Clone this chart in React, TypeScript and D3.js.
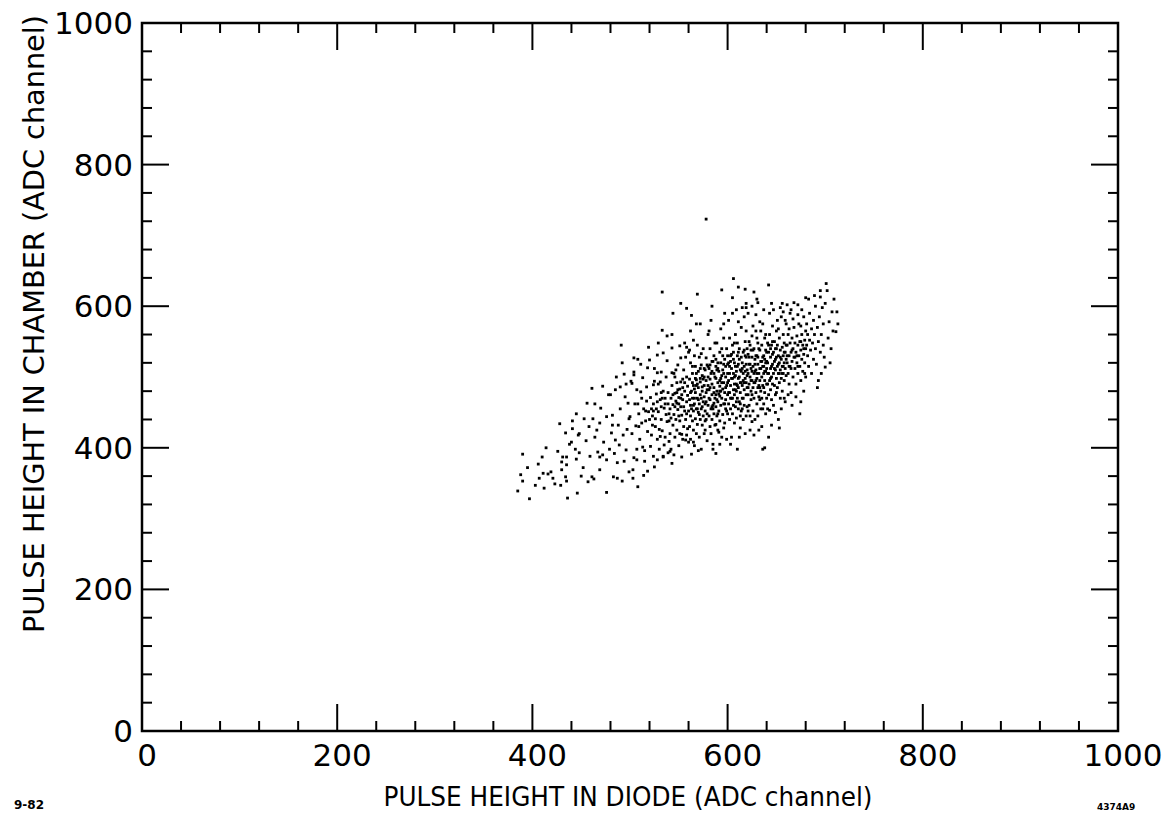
import React from "react";
import * as d3 from "d3";

// Event samples: [diode ADC channel, chamber ADC channel]
const eventsBelow500: [number, number][] = [
  [385,339],[388,362],[390,353],[390,391],[395,372],[397,328],
  [403,347],[406,377],[407,357],[410,387],[411,364],[414,400],[416,363],[419,366],[412,343],
  [421,357],[423,349],[428,434],[429,347],[430,369],[430,380],[431,387],[434,421],[434,359],[435,353],[435,376],[435,387],[436,329],[426,395],[438,405],
  [440,408],[441,427],[441,438],[444,398],[445,448],[445,384],[446,336],[447,418],[448,393],[448,420],[452,372],[455,410],[457,352],[458,430],[453,441],[459,388],[456,463],[450,360],
  [461,484],[472,487],[464,462],[470,456],[469,435],[476,444],[464,415],[467,394],[469,387],[472,390],[476,383],[469,369],[461,359],[463,356],[476,337],[478,475],[466,425],[473,408],[479,398],[462,441],
  [480,475],[485,482],[490,486],[495,472],[498,463],[481,421],[485,411],[487,379],[483,359],[487,357],[492,353],[491,545],[492,520],[486,500],[494,504],[482,446],[488,432],[493,418],[496,397],[499,441],[484,392],[490,455],[497,426],[489,404],[494,381],[499,366],[482,432],[496,490],
];

const events500to560: [number, number][] = [
  [503,369],[504,386],[507,383],[515,381],[518,367],[508,345],[503,357],[502,491],[507,482],[517,486],[504,527],[508,525],[511,518],[519,542],[520,524],[518,513],[513,499],[504,507],[504,503],[501,494],
  [505,462],[509,448],[512,470],[506,431],[514,455],[516,438],[510,412],[502,420],[518,423],[513,401],[507,398],[517,466],[511,479],[519,451],[500,444],[515,396],[509,430],[514,361],
  [525,373],[528,383],[534,388],[539,393],[524,489],[531,493],[528,531],[534,534],[528,506],[532,507],[525,494],[534,387],
  [521,402],[522,418],[523,445],[524,462],[526,430],[527,476],[528,412],[529,451],[530,398],[531,468],[532,440],[533,424],[534,480],[535,456],[536,415],[537,500],[538,437],[539,462],[540,409],[521,471],[523,432],[525,512],[527,455],[529,490],[530,426],[533,470],[535,404],[537,447],[539,478],[522,455],[526,441],[531,416],[536,470],[538,523],[524,388],[532,458],[529,548],[540,438],[533,620],[533,566],[538,558],
  [543,541],[543,506],[551,544],[558,542],[543,378],[553,387],[544,590],[552,604],[558,597],
  [541,420],[541,455],[542,470],[542,398],[543,488],[544,432],[544,461],[545,447],[545,505],[546,415],[546,477],[547,440],[547,466],[548,492],[548,425],[549,454],[549,517],[550,403],[550,471],[551,438],[551,483],[552,458],[552,527],[553,419],[553,446],[554,497],[554,468],[555,430],[555,510],[556,452],[556,480],[557,411],[557,440],[558,465],[558,500],[559,427],[559,487],[560,452],[560,535],[541,395],[543,560],[545,390],[547,510],[549,482],[551,420],[553,475],[555,458],[557,528],[559,474],[542,442],[546,500],[550,445],[554,412],[558,418],[544,475],[548,463],[552,493],[556,548],[560,408],
];

const events560to620: [number, number][] = [
  [565,552],[568,575],[572,575],[562,565],[569,617],
  [561,430],[561,468],[561,497],[562,445],[562,412],[562,520],[563,480],[563,455],[563,391],[564,438],[564,505],[564,470],[565,425],[565,488],[565,452],[566,530],[566,462],[566,403],[567,441],[567,478],[567,515],[568,455],[568,496],[568,420],[569,470],[569,433],[569,545],[570,485],[570,450],[570,508],[571,415],[571,462],[571,528],[572,440],[572,493],[572,475],[573,455],[573,398],[573,517],[574,480],[574,432],[574,502],[575,465],[575,445],[575,540],[576,488],[576,420],[576,472],[577,510],[577,452],[577,438],[578,495],[578,465],[578,527],[579,410],[579,482],[579,448],[580,500],[580,460],[580,560],[561,538],[563,587],[565,408],[567,498],[569,490],[571,447],[573,533],[575,497],[577,425],[579,517],[562,460],[566,483],[570,396],[574,458],[578,440],
  [581,445],[581,482],[581,512],[582,430],[582,468],[582,497],[582,540],[583,455],[583,420],[583,505],[584,475],[584,490],[584,440],[585,522],[585,460],[585,405],[586,485],[586,448],[586,530],[587,470],[587,500],[587,432],[588,392],[588,515],[588,458],[589,480],[589,445],[589,548],[590,492],[590,465],[590,425],[591,508],[591,476],[591,452],[592,535],[592,487],[592,438],[593,460],[593,520],[593,498],[594,623],[594,470],[594,415],[595,483],[595,447],[595,510],[596,492],[596,462],[596,555],[597,435],[597,478],[597,525],[598,500],[598,455],[598,468],[599,412],[599,488],[599,540],[600,475],[600,448],[600,505],[581,565],[583,580],[585,398],[587,548],[589,510],[591,422],[593,568],[595,530],[597,590],[599,452],[582,517],[584,458],[586,505],[588,433],[590,520],[592,473],[594,492],[596,428],[598,515],[584,600],[588,475],[592,405],[596,575],[600,530],[586,463],[590,448],[594,540],
  [606,639],[611,627],[618,624],[619,604],[619,598],
  [601,462],[601,495],[601,520],[602,440],[602,478],[602,505],[603,455],[603,530],[603,488],[604,415],[604,470],[604,512],[605,498],[605,448],[605,545],[606,482],[606,460],[606,525],[607,435],[607,500],[607,475],[608,515],[608,458],[608,560],[609,490],[609,442],[609,508],[610,470],[610,530],[610,398],[611,485],[611,455],[611,518],[612,500],[612,465],[612,540],[613,428],[613,478],[613,510],[614,492],[614,452],[614,570],[615,520],[615,470],[615,488],[616,505],[616,440],[616,535],[617,482],[617,460],[617,515],[618,498],[618,420],[618,550],[619,475],[619,528],[619,492],[620,510],[620,458],[620,485],[601,580],[603,405],[605,590],[607,548],[609,465],[611,578],[613,445],[615,598],[617,538],[619,445],[602,555],[604,532],[606,505],[608,482],[610,548],[612,415],[614,528],[616,470],[618,508],[620,540],[603,470],[607,520],[611,498],[615,455],[619,565],[605,612],[609,595],[613,492],[617,585],[610,515],
];

const events620to680: [number, number][] = [
  [625,437],[638,400],[630,610],[636,398],
  [621,475],[621,505],[621,532],[622,460],[622,490],[622,518],[623,445],[623,500],[623,545],[624,480],[624,512],[624,468],[625,495],[625,528],[625,558],[626,485],[626,452],[626,515],[627,505],[627,470],[627,540],[628,492],[628,525],[628,440],[629,510],[629,478],[629,565],[630,498],[630,462],[630,530],[631,518],[631,485],[631,548],[632,505],[632,472],[632,425],[633,538],[633,495],[633,512],[634,480],[634,522],[634,455],[635,500],[635,545],[635,470],[636,515],[636,488],[636,575],[637,530],[637,462],[637,505],[638,495],[638,555],[638,478],[639,520],[639,448],[639,508],[640,535],[640,490],[640,470],[621,590],[623,425],[625,600],[627,418],[629,588],[631,445],[633,578],[635,430],[637,595],[639,560],[622,550],[624,538],[626,572],[628,508],[630,555],[632,488],[634,565],[636,455],[638,525],[640,512],[621,452],[625,475],[629,530],[633,468],[637,485],[627,620],[631,605],
  [642,630],[645,604],[643,453],[656,604],
  [641,490],[641,520],[641,548],[642,475],[642,505],[642,535],[643,495],[643,560],[644,512],[644,482],[644,528],[645,468],[645,545],[645,500],[646,518],[646,490],[646,572],[647,535],[647,505],[647,460],[648,522],[648,550],[648,488],[649,510],[649,540],[649,475],[650,528],[650,498],[650,565],[651,515],[651,485],[651,545],[652,530],[652,505],[652,440],[653,520],[653,555],[653,492],[654,538],[654,510],[654,470],[655,525],[655,585],[655,498],[656,542],[656,515],[656,480],[657,530],[657,505],[657,560],[658,520],[658,495],[658,548],[659,535],[659,465],[659,512],[660,525],[660,502],[660,575],[641,455],[643,590],[645,432],[647,595],[649,450],[651,580],[653,428],[655,455],[657,592],[659,580],[642,415],[646,550],[650,478],[654,598],[658,470],[644,540],[652,568],
  [661,602],[672,602],[675,465],[680,612],
  [661,520],[661,545],[662,505],[662,560],[663,530],[663,490],[664,548],[664,515],[665,535],[665,478],[666,555],[666,522],[667,540],[667,500],[668,528],[668,570],[669,512],[669,548],[670,535],[670,490],[671,558],[671,520],[672,545],[672,505],[673,530],[673,575],[674,515],[674,550],[675,538],[675,495],[676,560],[676,525],[677,545],[677,508],[678,532],[678,585],[679,520],[679,552],[680,540],[680,500],[662,475],[664,590],[666,460],[668,605],[670,472],[672,588],[674,448],[676,595],[678,480],[680,565],[663,568],[667,582],[671,530],[675,572],[679,505],[665,595],
];

const eventsAbove680: [number, number][] = [
  [695,622],[695,613],[700,604],[700,514],[696,505],
  [681,545],[681,575],[682,530],[682,560],[683,515],[684,552],[684,590],[685,538],[686,568],[686,505],[687,548],[688,580],[688,525],[689,560],[690,540],[690,600],[691,518],[692,570],[693,550],[693,495],[694,585],[695,535],[696,560],[697,598],[698,545],[698,575],[699,528],[683,610],[689,615],[692,485],
  [701,632],[702,622],[712,592],[707,592],[711,564],[703,555],[704,578],[706,540],[709,610],[705,520],[713,575],[708,565],
];

// Extra events in the dense core of the distribution
const coreEvents: [number, number][] = [
  [562,478],[564,492],[566,470],[568,505],[570,468],[572,512],[574,486],[576,500],[578,478],[580,515],
  [582,485],[584,508],[586,478],[588,498],[590,512],[592,480],[594,502],[596,518],[598,485],[600,492],
  [602,515],[604,498],[606,535],[608,502],[610,488],[612,525],[614,508],[616,495],[618,530],[620,502],
  [622,528],[624,495],[626,538],[628,518],[630,505],[632,540],[634,512],[636,528],[638,508],[640,522],
  [642,545],[644,498],[646,532],[648,512],[650,540],[652,518],[654,528],[656,505],[658,535],[660,545],
  [663,515],[666,538],[669,528],[672,515],[675,550],[678,540],
  [565,460],[569,455],[573,470],[577,462],[581,470],[585,455],[589,468],[593,480],[597,462],[601,478],
  [605,470],[609,480],[613,462],[617,492],[621,485],[625,508],[629,495],[633,485],[637,515],[641,505],
  [645,515],[649,525],[653,505],[657,515],[661,530],[665,512],
  [546,458],[550,462],[554,485],[558,448],[548,478],[552,470],[556,492],[540,448],[536,462],[532,478],
  [528,465],[524,452],[520,440],[516,452],[512,435],[508,462],
  [603,522],[607,490],[611,535],[615,512],[619,518],[623,518],[627,492],[631,528],[635,522],[639,538],
  [588,525],[592,495],[596,505],[600,518],[584,522],[580,488],[576,512],[572,498],[568,488],[564,515],
];

const outliers: [number, number][] = [[578,723]];

const xTickLabels = [0, 200, 400, 600, 800, 1000];
const yTickLabels = [0, 200, 400, 600, 800, 1000];
const minorStep = 40;

const xTitle = "PULSE HEIGHT IN DIODE (ADC channel)";
const yTitle = "PULSE HEIGHT IN CHAMBER (ADC channel)";
const dateNote = "9-82";
const figNote = "4374A9";

const W = 1167;
const H = 830;
const L = 142, R = 1118, T = 23, B = 731;
const FONT = "'DejaVu Sans', 'Liberation Sans', sans-serif";

export default function App() {
  const x = d3.scaleLinear().domain([0, 1000]).range([L, R]);
  const y = d3.scaleLinear().domain([0, 1000]).range([B, T]);
  const ticks = d3.range(0, 1000 + 1, minorStep);
  const isMajor = (v: number) => v % 200 === 0;
  const all = [...eventsBelow500, ...events500to560, ...events560to620, ...events620to680, ...eventsAbove680, ...coreEvents, ...outliers];

  return (
    <svg width={W} height={H} style={{ position: "absolute", left: 0, top: 0, background: "#fff" }}>
      <rect x={0} y={0} width={W} height={H} fill="#fff" />
      <g stroke="#000" strokeWidth={2}>
        {ticks.map((v) => {
          const len = isMajor(v) ? 27 : 10;
          return (
            <g key={"t" + v}>
              <line x1={x(v)} x2={x(v)} y1={B} y2={B - len} />
              <line x1={x(v)} x2={x(v)} y1={T} y2={T + len} />
              <line x1={L} x2={L + len} y1={y(v)} y2={y(v)} />
              <line x1={R} x2={R - len} y1={y(v)} y2={y(v)} />
            </g>
          );
        })}
      </g>
      <rect x={L} y={T} width={R - L} height={B - T} fill="none" stroke="#000" strokeWidth={2.5} />
      <g fill="#000">
        {all.map((p, i) => (
          <rect key={i} x={x(p[0]) - 1.4} y={y(p[1]) - 1.4} width={2.8} height={2.8} />
        ))}
      </g>
      <g fontFamily={FONT} fontSize={31} fill="#000">
        {xTickLabels.map((v) => (
          <text key={"xl" + v} x={x(v) + 5} y={766} textAnchor="middle">{v}</text>
        ))}
        {yTickLabels.map((v) => (
          <text key={"yl" + v} x={133} y={y(v) + 11} textAnchor="end">{v}</text>
        ))}
      </g>
      <text x={628} y={806} textAnchor="middle" fontFamily={FONT} fontSize={26} textLength={489} lengthAdjust="spacingAndGlyphs">{xTitle}</text>
      <text transform={`translate(44,324) rotate(-90)`} textAnchor="middle" fontFamily={FONT} fontSize={29} textLength={618} lengthAdjust="spacingAndGlyphs">{yTitle}</text>
      <text x={14} y={809} fontFamily={FONT} fontSize={12} fontWeight="bold">{dateNote}</text>
      <text x={1097} y={810} fontFamily={FONT} fontSize={9} fontWeight="bold">{figNote}</text>
    </svg>
  );
}
